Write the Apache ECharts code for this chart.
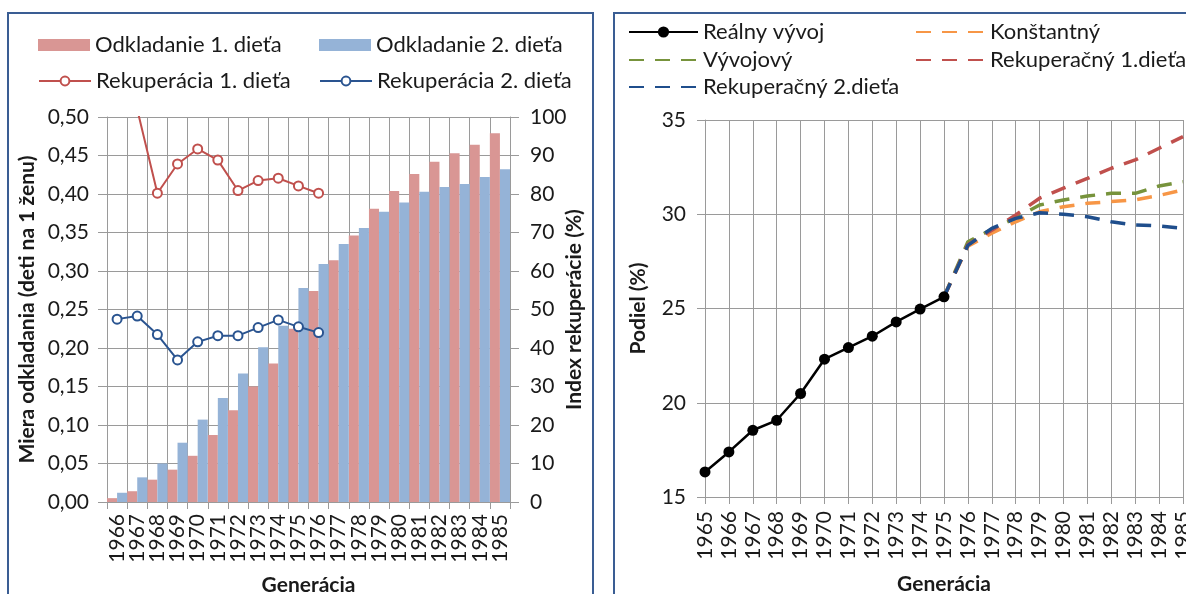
<!DOCTYPE html>
<html>
<head>
<meta charset="utf-8">
<script src="https://cdn.jsdelivr.net/npm/echarts@6/dist/echarts.min.js"></script>
<style>
  html, body { margin: 0; padding: 0; width: 1186px; height: 594px; overflow: hidden; background: #fff; }
  .box { position: absolute; top: 12px; height: 600px; border: 2px solid #3a5d93; box-sizing: border-box; background: #fff; }
  .box > div { width: 100%; height: 100%; }
  #boxLeft { left: 7px; width: 587px; }
  #boxRight { left: 613px; width: 590px; }
</style>
</head>
<body>
<div id="boxLeft" class="box"><div id="chartLeft"></div></div>
<div id="boxRight" class="box"><div id="chartRight"></div></div>
<script>
// --- left chart data ---
var yearsLeft = ['1966','1967','1968','1969','1970','1971','1972','1973','1974','1975',
                 '1976','1977','1978','1979','1980','1981','1982','1983','1984','1985'];
var odkladanie1 = [0.005, 0.014, 0.029, 0.042, 0.060, 0.087, 0.119, 0.150, 0.180, 0.225,
                   0.274, 0.314, 0.346, 0.381, 0.404, 0.426, 0.442, 0.453, 0.464, 0.479];
var odkladanie2 = [0.012, 0.032, 0.050, 0.077, 0.107, 0.135, 0.167, 0.201, 0.229, 0.278,
                   0.309, 0.335, 0.356, 0.377, 0.389, 0.403, 0.409, 0.413, 0.422, 0.432];
var rekuperacia1 = [null, 102, 80.2, 87.8, 91.7, 88.8, 80.9, 83.5, 84.1, 82.1, 80.2];
var rekuperacia2 = [47.5, 48.3, 43.5, 36.9, 41.6, 43.2, 43.2, 45.3, 47.3, 45.5, 44.0];

// --- right chart data ---
var yearsRight = ['1965','1966','1967','1968','1969','1970','1971','1972','1973','1974','1975',
                  '1976','1977','1978','1979','1980','1981','1982','1983','1984','1985'];
var realny = [16.33, 17.39, 18.54, 19.07, 20.49, 22.31, 22.93, 23.53, 24.29, 24.97, 25.62];
var konstantny = [null, null, null, null, null, null, null, null, null, null, 25.62,
                  28.30, 28.99, 29.60, 30.13, 30.40, 30.58, 30.67, 30.76, 31.00, 31.29];
var vyvojovy = [null, null, null, null, null, null, null, null, null, null, 25.62,
                28.54, 29.20, 29.80, 30.49, 30.76, 30.97, 31.11, 31.11, 31.50, 31.73];
var rekuperacny1 = [null, null, null, null, null, null, null, null, null, null, 25.62,
                    28.40, 29.15, 29.96, 30.85, 31.38, 31.90, 32.44, 32.88, 33.50, 34.12];
var rekuperacny2 = [null, null, null, null, null, null, null, null, null, null, 25.62,
                    28.35, 29.25, 29.78, 30.08, 30.00, 29.87, 29.60, 29.43, 29.38, 29.25];

var FONT = 'Lato, "Liberation Sans", sans-serif';
var TXT = '#1a1a1a';
var GRIDC = '#9a9a9a';

function legendItem(name, x, cy, w, h, icon, hideSymbol) {
  var l = {
    data: [name], left: x, top: cy - 12, padding: 0, itemGap: 0,
    itemWidth: w, itemHeight: h, selectedMode: false,
    textStyle: { fontFamily: FONT, fontSize: 22, color: TXT }
  };
  if (icon) l.icon = icon;
  if (hideSymbol) l.itemStyle = { opacity: 0 };
  return l;
}

var axisLbl = { fontFamily: FONT, fontSize: 21, color: TXT };
var nameTxt = { fontFamily: FONT, fontSize: 21, fontWeight: 'bold', color: TXT };

var chartLeft = echarts.init(document.getElementById('chartLeft'));
chartLeft.setOption({
  animation: false,
  legend: [
    legendItem('Odkladanie 1. dieťa', 29, 32, 52, 12, 'rect'),
    legendItem('Odkladanie 2. dieťa', 310, 32, 52, 12, 'rect'),
    legendItem('Rekuperácia 1. dieťa', 29, 68, 52, 11),
    legendItem('Rekuperácia 2. dieťa', 310, 68, 52, 11)
  ],
  grid: { left: 98, right: 82, top: 103, bottom: 108, containLabel: false, outerBoundsMode: 'none' },
  xAxis: {
    type: 'category',
    data: yearsLeft,
    name: 'Generácia', nameLocation: 'middle', nameGap: 73, nameTextStyle: nameTxt,
    nameMoveOverlap: false,
    axisLine: { lineStyle: { color: GRIDC } },
    axisTick: { show: true, length: 7, interval: 0, lineStyle: { color: GRIDC } },
    axisLabel: Object.assign({ rotate: 90, interval: 0, margin: 12 }, axisLbl),
    splitLine: { show: true, interval: 0, lineStyle: { color: GRIDC, width: 1 } }
  },
  yAxis: [
    {
      type: 'value', min: 0, max: 0.5, interval: 0.05,
      name: 'Miera odkladania (deti na 1 ženu)', nameLocation: 'middle', nameGap: 69,
      nameRotate: 90, nameTextStyle: nameTxt, nameMoveOverlap: false,
      axisLine: { show: true, lineStyle: { color: GRIDC } },
      axisTick: { show: true, length: 9, lineStyle: { color: GRIDC } },
      axisLabel: Object.assign({ margin: 18, formatter: function (v) { return v.toFixed(2).replace('.', ','); } }, axisLbl),
      splitLine: { show: true, lineStyle: { color: GRIDC, width: 1 } }
    },
    {
      type: 'value', min: 0, max: 100, interval: 10,
      name: 'Index rekuperácie (%)', nameLocation: 'middle', nameGap: 54,
      nameRotate: 90, nameTextStyle: nameTxt, nameMoveOverlap: false,
      axisLine: { show: true, lineStyle: { color: GRIDC } },
      axisTick: { show: true, length: 9, lineStyle: { color: GRIDC } },
      axisLabel: Object.assign({ margin: 20 }, axisLbl),
      splitLine: { show: false }
    }
  ],
  series: [
    {
      name: 'Odkladanie 1. dieťa', type: 'bar', data: odkladanie1,
      barGap: '0%', barCategoryGap: '0%',
      itemStyle: { color: '#d99694' }
    },
    {
      name: 'Odkladanie 2. dieťa', type: 'bar', data: odkladanie2,
      barGap: '0%', barCategoryGap: '0%',
      itemStyle: { color: '#95b3d7' }
    },
    {
      name: 'Rekuperácia 1. dieťa', type: 'line', yAxisIndex: 1, data: rekuperacia1,
      clip: true, symbol: 'circle', symbolSize: 9,
      lineStyle: { color: '#c0504d', width: 2 },
      itemStyle: { color: '#fff', borderColor: '#c0504d', borderWidth: 2 }
    },
    {
      name: 'Rekuperácia 2. dieťa', type: 'line', yAxisIndex: 1, data: rekuperacia2,
      clip: true, symbol: 'circle', symbolSize: 9,
      lineStyle: { color: '#2a5490', width: 2 },
      itemStyle: { color: '#fff', borderColor: '#2a5490', borderWidth: 2 }
    }
  ]
});

var DASH = [15, 11];
function dashed(name, data, color) {
  return {
    name: name, type: 'line', data: data, symbol: 'none',
    lineStyle: { color: color, width: 3.5, type: DASH },
    itemStyle: { color: color }
  };
}

var chartRight = echarts.init(document.getElementById('chartRight'));
chartRight.setOption({
  animation: false,
  legend: [
    legendItem('Reálny vývoj', 13, 19, 69, 14),
    legendItem('Konštantný', 300, 19, 69, 14, null, true),
    legendItem('Vývojový', 13, 47, 69, 14, null, true),
    legendItem('Rekuperačný 1.dieťa', 300, 47, 69, 14, null, true),
    legendItem('Rekuperačný 2.dieťa', 13, 74, 69, 14, null, true)
  ],
  grid: { left: 90, right: 18, top: 106, bottom: 113, containLabel: false, outerBoundsMode: 'none' },
  xAxis: {
    type: 'category', data: yearsRight, boundaryGap: false,
    name: 'Generácia', nameLocation: 'middle', nameGap: 77, nameTextStyle: nameTxt,
    nameMoveOverlap: false,
    axisLine: { lineStyle: { color: GRIDC } },
    axisTick: { show: true, length: 7, interval: 0, lineStyle: { color: GRIDC } },
    axisLabel: Object.assign({ rotate: 90, interval: 0, margin: 14 }, axisLbl),
    splitLine: { show: true, interval: 0, lineStyle: { color: GRIDC, width: 1 } }
  },
  yAxis: {
    type: 'value', min: 15, max: 35, interval: 5,
    name: 'Podiel (%)', nameLocation: 'middle', nameGap: 56, nameRotate: 90, nameTextStyle: nameTxt,
    nameMoveOverlap: false,
    axisLine: { show: true, lineStyle: { color: GRIDC } },
    axisTick: { show: true, length: 8, lineStyle: { color: GRIDC } },
    axisLabel: Object.assign({ margin: 19 }, axisLbl),
    splitLine: { show: true, lineStyle: { color: GRIDC, width: 1 } }
  },
  series: [
    {
      name: 'Reálny vývoj', type: 'line', data: realny,
      symbol: 'circle', symbolSize: 11,
      lineStyle: { color: '#000', width: 2.5 },
      itemStyle: { color: '#000' }
    },
    dashed('Konštantný', konstantny, '#f79646'),
    dashed('Vývojový', vyvojovy, '#77933c'),
    dashed('Rekuperačný 1.dieťa', rekuperacny1, '#c0504d'),
    dashed('Rekuperačný 2.dieťa', rekuperacny2, '#1f4e8c')
  ]
});
</script>
</body>
</html>
